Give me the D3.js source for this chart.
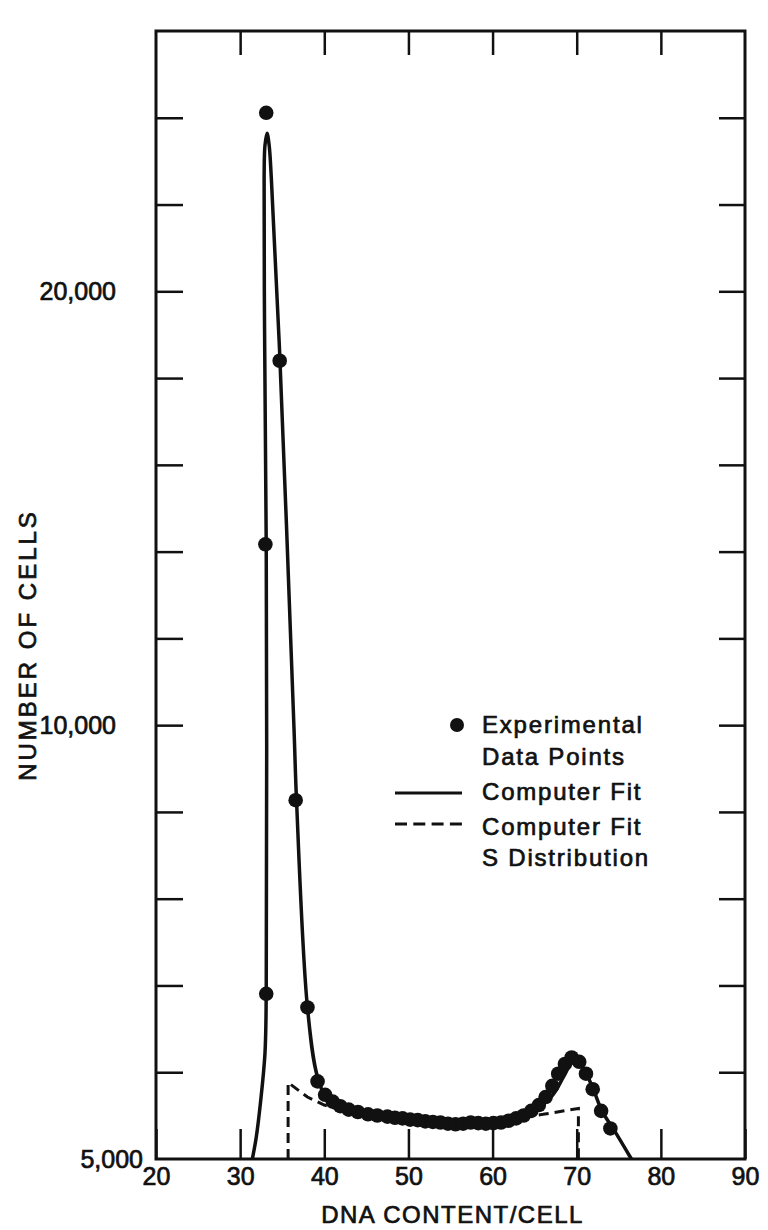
<!DOCTYPE html>
<html>
<head>
<meta charset="utf-8">
<script src="https://cdn.jsdelivr.net/npm/d3@7"></script>
<style>
  body { margin: 0; background: #fff; }
  text { font-family: "Liberation Sans", Arial, sans-serif; fill: #111; stroke: #111; stroke-width: 0.7; }
</style>
</head>
<body>
<svg></svg>
<script>
// experimental data points (DNA content, number of cells)
var pointX = [33.1, 34.7, 33.0, 36.6, 33.1, 38.0, 39.2, 40.1, 41.0, 41.9, 42.9, 44.0, 45.2, 46.3, 47.5,
  48.4, 49.3, 50.2, 51.1, 52.0, 52.9, 53.8, 54.7, 55.6, 56.5, 57.4, 58.3, 59.2, 60.1, 61.0,
  61.9, 62.8, 63.7, 64.6, 65.5, 66.3, 67.1, 67.8, 68.6, 69.4, 70.3, 71.1, 71.9, 72.9, 74.0];
var pointY = [26600, 17900, 13350, 8870, 6510, 6370, 5660, 5540, 5480, 5440, 5410, 5390, 5370, 5360, 5350,
  5340, 5335, 5325, 5320, 5310, 5305, 5300, 5290, 5285, 5290, 5300, 5295, 5290, 5295, 5300,
  5315, 5335, 5360, 5400, 5450, 5520, 5620, 5730, 5820, 5880, 5840, 5730, 5590, 5400, 5250];

// computer fit (solid)
var fitX = [31.45, 31.9, 32.4, 32.95, 33.1, 33.1, 32.9, 32.85, 32.95, 33.2, 33.45, 33.7, 34.7, 36.4, 36.7,
  38.0, 39.2, 40.5, 43, 46, 50, 55, 60, 63, 65, 67, 68.5, 69.5, 70.5, 71.8, 73, 74.5, 76.5];
var fitY = [5000, 5170, 5460, 5920, 6510, 13330, 18900, 24000, 25250, 25750, 25250, 24000, 18100, 9950, 8870,
  6370, 5700, 5490, 5420, 5377, 5344, 5314, 5322, 5360, 5430, 5525, 5710, 5834, 5810, 5620, 5400, 5230, 5000];

// computer fit, S distribution (dashed)
var sX = [35.7, 35.7, 38, 40, 43, 47, 52, 57, 62, 66, 70.2, 70.2];
var sY = [5000, 5650, 5520, 5450, 5385, 5330, 5306, 5306, 5330, 5370, 5420, 5000];

var xTicks = [20, 30, 40, 50, 60, 70, 80, 90];
var yLabelVals = [5000, 10000, 20000];
var yLabelText = ["5,000", "10,000", "20,000"];
var legendText = ["Experimental", "Data Points", "Computer Fit", "Computer Fit", "S Distribution"];

var svgWidth = 768, svgHeight = 1230;
var plotLeft = 156, plotRight = 745, plotTop = 31, plotBottom = 1159;

var svg = d3.select("svg")
  .attr("width", svgWidth)
  .attr("height", svgHeight);

var xScale = d3.scaleLinear()
  .domain([20, 90])
  .range([plotLeft, plotRight]);

// log scale, ticks spaced 2^(1/5) apart
var yTop = 5000 * Math.pow(2, 13 / 5);
var yScale = d3.scaleLog()
  .domain([5000, yTop])
  .range([plotBottom, plotTop]);
var yTickVals = d3.range(1, 13).map(function (k) { return 5000 * Math.pow(2, k / 5); });

// frame
svg.append("rect")
  .attr("x", plotLeft)
  .attr("y", plotTop)
  .attr("width", plotRight - plotLeft)
  .attr("height", plotBottom - plotTop)
  .attr("fill", "none")
  .attr("stroke", "#111")
  .attr("stroke-width", 3);

var x_axis = d3.axisBottom(xScale).tickValues(xTicks).tickSize(-30).tickPadding(8).tickSizeOuter(0);
var gx = svg.append("g")
  .attr("transform", "translate(0," + plotBottom + ")")
  .call(x_axis);
gx.selectAll("text").attr("font-size", 25);

var top_axis = d3.axisTop(xScale).tickValues(xTicks.slice(1, -1)).tickSize(-24).tickFormat("");
svg.append("g")
  .attr("transform", "translate(0," + plotTop + ")")
  .call(top_axis);

var y_axis = d3.axisLeft(yScale).tickValues(yTickVals).tickSize(-27).tickFormat("");
svg.append("g")
  .attr("transform", "translate(" + plotLeft + ",0)")
  .call(y_axis);

var y_axis_r = d3.axisRight(yScale).tickValues(yTickVals).tickSize(-26).tickFormat("");
svg.append("g")
  .attr("transform", "translate(" + plotRight + ",0)")
  .call(y_axis_r);

svg.selectAll(".domain").remove();
svg.selectAll(".tick line").attr("stroke", "#111").attr("stroke-width", 2.5);

svg.selectAll(".ylab")
  .data(yLabelVals)
  .enter()
  .append("text")
  .attr("class", "ylab")
  .attr("x", function (d) { return d === 5000 ? plotLeft - 13 : plotLeft - 40; })
  .attr("y", function (d) { return yScale(d); })
  .attr("dy", "0.35em")
  .attr("text-anchor", "end")
  .attr("font-size", 25)
  .text(function (d, i) { return yLabelText[i]; });

// axis titles
svg.append("text")
  .attr("x", (plotLeft + plotRight) / 2 + 2)
  .attr("y", 1223)
  .attr("text-anchor", "middle")
  .attr("font-size", 24)
  .attr("letter-spacing", 1.5)
  .text("DNA CONTENT/CELL");

svg.append("text")
  .attr("transform", "translate(36,645) rotate(-90)")
  .attr("text-anchor", "middle")
  .attr("font-size", 24)
  .attr("letter-spacing", 3)
  .text("NUMBER OF CELLS");

// curves
var line = d3.line()
  .x(function (d) { return xScale(d[0]); })
  .y(function (d) { return yScale(d[1]); })
  .curve(d3.curveCatmullRom.alpha(0.5));

svg.append("path")
  .datum(d3.zip(fitX, fitY))
  .attr("d", line)
  .attr("fill", "none")
  .attr("stroke", "#111")
  .attr("stroke-width", 3.5)
  .attr("stroke-linejoin", "round");

var sLine = d3.line()
  .x(function (d) { return xScale(d[0]); })
  .y(function (d) { return yScale(d[1]); });

svg.append("path")
  .datum(d3.zip(sX, sY))
  .attr("d", sLine)
  .attr("fill", "none")
  .attr("stroke", "#111")
  .attr("stroke-width", 3)
  .attr("stroke-dasharray", "10,6");

svg.selectAll(".pt")
  .data(d3.zip(pointX, pointY))
  .enter()
  .append("circle")
  .attr("class", "pt")
  .attr("cx", function (d) { return xScale(d[0]); })
  .attr("cy", function (d) { return yScale(d[1]); })
  .attr("r", 7.3)
  .attr("fill", "#111");

// legend
var legend = svg.append("g");
legend.append("circle")
  .attr("cx", 457).attr("cy", 725).attr("r", 7).attr("fill", "#111");
legend.append("line")
  .attr("x1", 395).attr("x2", 462).attr("y1", 793).attr("y2", 793)
  .attr("stroke", "#111").attr("stroke-width", 3);
legend.append("line")
  .attr("x1", 395).attr("x2", 462).attr("y1", 824).attr("y2", 824)
  .attr("stroke", "#111").attr("stroke-width", 3)
  .attr("stroke-dasharray", "12,6.3");

var legendY = [733, 765, 800, 835, 866];
legend.selectAll("text")
  .data(legendText)
  .enter()
  .append("text")
  .attr("x", 482)
  .attr("y", function (d, i) { return legendY[i]; })
  .attr("font-size", 24)
  .attr("letter-spacing", 1.8)
  .text(function (d) { return d; });
</script>
</body>
</html>
